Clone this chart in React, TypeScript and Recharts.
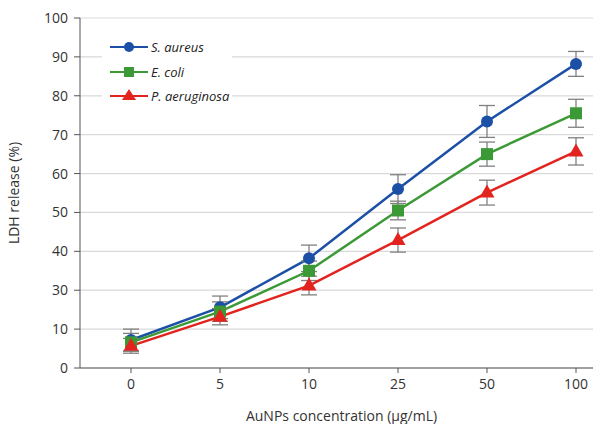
import React from 'react';
import { LineChart, Line, XAxis, YAxis, CartesianGrid, ErrorBar, Legend } from 'recharts';

// Concentration categories (µg/mL)
const concentrations = ['0', '5', '10', '25', '50', '100'];

// The source figure's y axis labels its gridlines 0, 10, 30, 40 ... 100 (no 20),
// so values below are read as gridline positions (one gridline = 10 units).
const yTicks = [0, 10, 20, 30, 40, 50, 60, 70, 80, 90];
const yTickLabels = ['0', '10', '30', '40', '50', '60', '70', '80', '90', '100'];

const saureus = [7.2, 15.6, 28.2, 46.0, 63.4, 78.2];
const saureusErr = [2.8, 2.9, 3.4, 3.7, 4.1, 3.2];
const ecoli = [6.6, 14.5, 25.0, 40.5, 55.0, 65.5];
const ecoliErr = [2.3, 2.5, 2.5, 2.4, 3.1, 3.6];
const paeruginosa = [5.7, 13.2, 21.2, 32.9, 45.1, 55.7];
const paeruginosaErr = [1.9, 2.1, 2.4, 3.1, 3.2, 3.5];

const BLUE = '#1c50a6';
const GREEN = '#3c9a36';
const RED = '#e3231e';
const FONT = '"Open Sans", sans-serif';

const data = concentrations.map((c, i) => ({
  conc: c,
  sa: saureus[i],
  saErr: saureusErr[i],
  ec: ecoli[i],
  ecErr: ecoliErr[i],
  pa: paeruginosa[i],
  paErr: paeruginosaErr[i],
}));

const CircleDot = (props: any) => {
  const { cx, cy, index } = props;
  if (cx == null || cy == null) return null;
  return <circle key={`c-${index}`} cx={cx} cy={cy} r={6} fill={BLUE} />;
};

const SquareDot = (props: any) => {
  const { cx, cy, index } = props;
  if (cx == null || cy == null) return null;
  return <rect key={`s-${index}`} x={cx - 6} y={cy - 6} width={12} height={12} fill={GREEN} />;
};

const TriangleDot = (props: any) => {
  const { cx, cy, index } = props;
  if (cx == null || cy == null) return null;
  return (
    <polygon
      key={`t-${index}`}
      points={`${cx},${cy - 8} ${cx + 7.5},${cy + 5} ${cx - 7.5},${cy + 5}`}
      fill={RED}
    />
  );
};

const legendItems = [
  { name: 'S. aureus', color: BLUE, shape: 'circle' },
  { name: 'E. coli', color: GREEN, shape: 'square' },
  { name: 'P. aeruginosa', color: RED, shape: 'triangle' },
];

const LegendContent = () => (
  <div style={{ background: '#fff', padding: '0 0 0 8px' }}>
    {legendItems.map((item) => (
      <div key={item.name} style={{ height: 24.5, display: 'flex', alignItems: 'center' }}>
        <svg width={38} height={20}>
          <line x1={0} y1={10} x2={38} y2={10} stroke={item.color} strokeWidth={2} />
          {item.shape === 'circle' && <circle cx={19} cy={10} r={5} fill={item.color} />}
          {item.shape === 'square' && <rect x={14} y={5} width={10} height={10} fill={item.color} />}
          {item.shape === 'triangle' && <polygon points="19,3 26,14 12,14" fill={item.color} />}
        </svg>
        <span
          style={{
            marginLeft: 3,
            fontFamily: FONT,
            fontStyle: 'italic',
            fontSize: 13,
            color: '#222',
          }}
        >
          {item.name}
        </span>
      </div>
    ))}
  </div>
);

export default function App() {
  return (
    <div style={{ position: 'absolute', left: 0, top: 0, width: 595, height: 424, background: '#fff' }}>
      <LineChart width={595} height={424} data={data} margin={{ top: 18, right: 2, bottom: 0, left: 8 }}>
        <CartesianGrid vertical={false} stroke="#d9d9d9" strokeWidth={1.2} />
        <XAxis
          dataKey="conc"
          type="category"
          padding={{ left: 51, right: 17 }}
          height={56}
          stroke="#555"
          tickSize={5}
          tick={{ fill: '#333', fontSize: 14, fontFamily: FONT }}
          tickMargin={6}
          label={{
            value: 'AuNPs concentration (µg/mL)',
            position: 'insideBottom',
            offset: 3,
            dx: 5,
            fill: '#333',
            fontSize: 14,
            fontFamily: FONT,
          }}
        />
        <YAxis
          type="number"
          domain={[0, 90]}
          ticks={yTicks}
          tickFormatter={(v: number) => yTickLabels[Math.round(v / 10)]}
          width={72}
          stroke="#555"
          tickSize={6}
          tickMargin={6}
          tick={{ fill: '#333', fontSize: 14, fontFamily: FONT }}
          label={{
            value: 'LDH release (%)',
            angle: -90,
            position: 'center',
            dx: -30,
            fill: '#333',
            fontSize: 14,
            fontFamily: FONT,
          }}
        />
        <Legend
          layout="horizontal"
          verticalAlign="middle"
          align="center"
          content={<LegendContent />}
          wrapperStyle={{ position: 'absolute', left: 102, top: 35, width: 130, height: 'auto' }}
        />
        <Line
          type="linear"
          dataKey="sa"
          name="S. aureus"
          stroke={BLUE}
          strokeWidth={2.5}
          dot={CircleDot}
          activeDot={false}
          isAnimationActive={false}
        >
          <ErrorBar dataKey="saErr" direction="y" width={8} stroke="#808080" strokeWidth={1.3} />
        </Line>
        <Line
          type="linear"
          dataKey="ec"
          name="E. coli"
          stroke={GREEN}
          strokeWidth={2.5}
          dot={SquareDot}
          activeDot={false}
          isAnimationActive={false}
        >
          <ErrorBar dataKey="ecErr" direction="y" width={8} stroke="#808080" strokeWidth={1.3} />
        </Line>
        <Line
          type="linear"
          dataKey="pa"
          name="P. aeruginosa"
          stroke={RED}
          strokeWidth={2.5}
          dot={TriangleDot}
          activeDot={false}
          isAnimationActive={false}
        >
          <ErrorBar dataKey="paErr" direction="y" width={8} stroke="#808080" strokeWidth={1.3} />
        </Line>
      </LineChart>
    </div>
  );
}
